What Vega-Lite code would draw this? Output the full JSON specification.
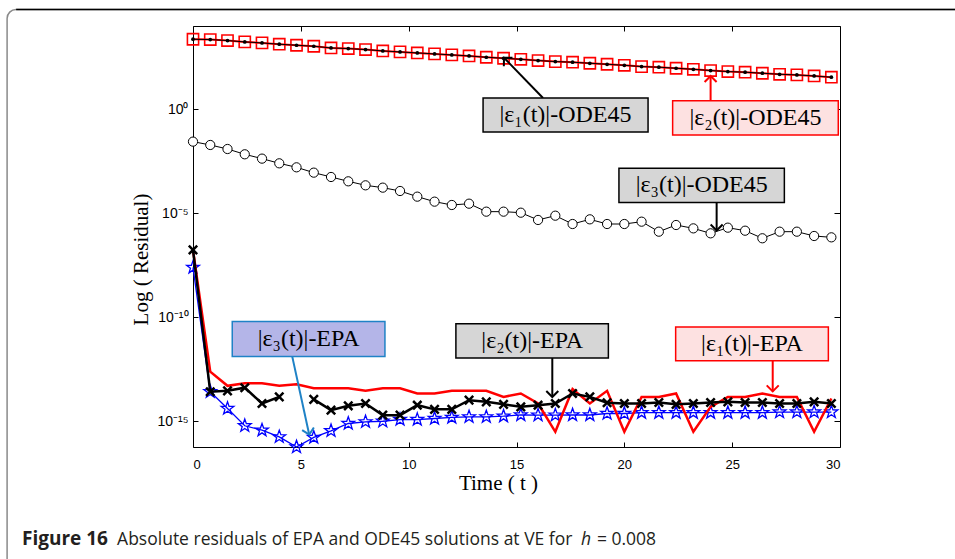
{
  "$schema": "https://vega.github.io/schema/vega-lite/v6.json",
  "width": 647,
  "height": 421,
  "autosize": {"type": "none"},
  "padding": {"left": 193, "top": 26, "right": 115, "bottom": 112},
  "background": "white",
  "config": {
    "view": {"stroke": "black", "strokeWidth": 1},
    "axis": {"grid": false, "domain": false, "tickColor": "black", "labelColor": "black", "titleColor": "black"}
  },
  "resolve": {"axis": {"x": "independent", "y": "independent"}},
  "datasets": {
    "ode": [
      {"t": 0, "e1": 2312, "e3": 0.0278},
      {"t": 0.8, "e1": 2228, "e3": 0.0192},
      {"t": 1.6, "e1": 1995, "e3": 0.0123},
      {"t": 2.4, "e1": 1722, "e3": 0.00684},
      {"t": 3.2, "e1": 1542, "e3": 0.00424},
      {"t": 4.0, "e1": 1330, "e3": 0.00252},
      {"t": 4.8, "e1": 1189, "e3": 0.00162},
      {"t": 5.6, "e1": 1064, "e3": 0.000899},
      {"t": 6.4, "e1": 885, "e3": 0.000556},
      {"t": 7.2, "e1": 822, "e3": 0.000344},
      {"t": 8.0, "e1": 736, "e3": 0.000221},
      {"t": 8.8, "e1": 635, "e3": 0.000171},
      {"t": 9.6, "e1": 569, "e3": 0.000118},
      {"t": 10.4, "e1": 509, "e3": 6.31e-5},
      {"t": 11.2, "e1": 456, "e3": 3.63e-5},
      {"t": 12.0, "e1": 408, "e3": 2.51e-5},
      {"t": 12.8, "e1": 365, "e3": 2.9e-5},
      {"t": 13.6, "e1": 315, "e3": 1.2e-5},
      {"t": 14.4, "e1": 282, "e3": 1.2e-5},
      {"t": 15.2, "e1": 251, "e3": 1.07e-5},
      {"t": 16.0, "e1": 219, "e3": 4.79e-6},
      {"t": 16.8, "e1": 195, "e3": 7.69e-6},
      {"t": 17.6, "e1": 182, "e3": 3.06e-6},
      {"t": 18.4, "e1": 162, "e3": 5.13e-6},
      {"t": 19.2, "e1": 145, "e3": 3.06e-6},
      {"t": 20.0, "e1": 129, "e3": 3.06e-6},
      {"t": 20.8, "e1": 112, "e3": 3.96e-6},
      {"t": 21.6, "e1": 105, "e3": 1.31e-6},
      {"t": 22.4, "e1": 93.3, "e3": 2.74e-6},
      {"t": 23.2, "e1": 83.2, "e3": 1.89e-6},
      {"t": 24.0, "e1": 72.4, "e3": 1.09e-6},
      {"t": 24.8, "e1": 64.6, "e3": 2.04e-6},
      {"t": 25.6, "e1": 60.3, "e3": 1.46e-6},
      {"t": 26.4, "e1": 53.7, "e3": 6.31e-7},
      {"t": 27.2, "e1": 47.9, "e3": 1.31e-6},
      {"t": 28.0, "e1": 44.7, "e3": 1.31e-6},
      {"t": 28.8, "e1": 39.8, "e3": 8.13e-7},
      {"t": 29.6, "e1": 34.7, "e3": 7.0e-7}
    ],
    "epa": [
      {"t": 0, "e1": 1.74e-7, "e2": 1.74e-7, "e3": 2.51e-8},
      {"t": 0.8, "e1": 2.45e-13, "e2": 2.66e-14, "e3": 2.66e-14},
      {"t": 1.6, "e1": 5.13e-14, "e2": 2.95e-14, "e3": 4.17e-15},
      {"t": 2.4, "e1": 6.76e-14, "e2": 4.17e-14, "e3": 6.17e-16},
      {"t": 3.2, "e1": 6.76e-14, "e2": 7.24e-15, "e3": 3.8e-16},
      {"t": 4.0, "e1": 5.13e-14, "e2": 1.51e-14, "e3": 1.82e-16},
      {"t": 4.8, "e1": 6.03e-14, "e2": null, "e3": 5.9e-17},
      {"t": 5.6, "e1": 3.89e-14, "e2": 1.15e-14, "e3": 1.7e-16},
      {"t": 6.4, "e1": 3.89e-14, "e2": 3.47e-15, "e3": 3.55e-16},
      {"t": 7.2, "e1": 3.89e-14, "e2": 5.62e-15, "e3": 7.94e-16},
      {"t": 8.0, "e1": 2.95e-14, "e2": 7.24e-15, "e3": 9.55e-16},
      {"t": 8.8, "e1": 3.89e-14, "e2": 2.0e-15, "e3": 1.02e-15},
      {"t": 9.6, "e1": 3.89e-14, "e2": 2.0e-15, "e3": 1.23e-15},
      {"t": 10.4, "e1": 2.19e-14, "e2": 6.03e-15, "e3": 1.23e-15},
      {"t": 11.2, "e1": 2.19e-14, "e2": 3.8e-15, "e3": 1.38e-15},
      {"t": 12.0, "e1": 2.95e-14, "e2": 3.8e-15, "e3": 1.55e-15},
      {"t": 12.8, "e1": 2.95e-14, "e2": 1.05e-14, "e3": 1.66e-15},
      {"t": 13.6, "e1": 2.95e-14, "e2": 8.71e-15, "e3": 1.66e-15},
      {"t": 14.4, "e1": 1.51e-14, "e2": 6.61e-15, "e3": 1.78e-15},
      {"t": 15.2, "e1": 2.19e-14, "e2": 5.01e-15, "e3": 2.04e-15},
      {"t": 16.0, "e1": 7.24e-15, "e2": 6.03e-15, "e3": 2.0e-15},
      {"t": 16.8, "e1": 3.16e-16, "e2": 7.24e-15, "e3": 2.0e-15},
      {"t": 17.6, "e1": 3.55e-14, "e2": 2.19e-14, "e3": 2.04e-15},
      {"t": 18.4, "e1": 7.24e-15, "e2": 1.51e-14, "e3": 2.04e-15},
      {"t": 19.2, "e1": 2.95e-14, "e2": 7.94e-15, "e3": 2.4e-15},
      {"t": 20.0, "e1": 3.16e-16, "e2": 7.24e-15, "e3": 2.4e-15},
      {"t": 20.8, "e1": 1.51e-14, "e2": 7.24e-15, "e3": 2.63e-15},
      {"t": 21.6, "e1": 1.51e-14, "e2": 8.13e-15, "e3": 2.63e-15},
      {"t": 22.4, "e1": 2.19e-14, "e2": 6.61e-15, "e3": 2.63e-15},
      {"t": 23.2, "e1": 3.16e-16, "e2": 7.24e-15, "e3": 2.63e-15},
      {"t": 24.0, "e1": 5.01e-15, "e2": 8.13e-15, "e3": 2.63e-15},
      {"t": 24.8, "e1": 1.51e-14, "e2": 8.71e-15, "e3": 2.63e-15},
      {"t": 25.6, "e1": 1.51e-14, "e2": 8.13e-15, "e3": 2.63e-15},
      {"t": 26.4, "e1": 2.19e-14, "e2": 8.13e-15, "e3": 2.63e-15},
      {"t": 27.2, "e1": 1.51e-14, "e2": 7.24e-15, "e3": 2.82e-15},
      {"t": 28.0, "e1": 1.51e-14, "e2": 7.24e-15, "e3": 2.82e-15},
      {"t": 28.8, "e1": 3.16e-16, "e2": 8.71e-15, "e3": 2.82e-15},
      {"t": 29.6, "e1": 1.26e-14, "e2": 7.24e-15, "e3": 2.82e-15}
    ],
    "notes": [
      {"label": "|ε₁(t)|-ODE45", "x1": 13.45, "x2": 21.10, "y1": 3.48, "y2": 0.0813, "tx": 17.27, "ty": 0.532, "ax": 16.23, "ay": 3.48, "hx": 14.42, "hy": 300},
      {"label": "|ε₂(t)|-ODE45", "x1": 22.24, "x2": 29.92, "y1": 2.59, "y2": 0.0583, "tx": 26.08, "ty": 0.391, "ax": 24.0, "ay": 2.59, "hx": 24.0, "hy": 39.8},
      {"label": "|ε₃(t)|-ODE45", "x1": 19.75, "x2": 27.42, "y1": 1.47e-3, "y2": 3.28e-5, "tx": 23.59, "ty": 2.2e-4, "ax": 24.28, "ay": 3.28e-5, "hx": 24.28, "hy": 1.49e-6},
      {"label": "|ε₃(t)|-EPA", "x1": 1.82, "x2": 8.90, "y1": 6.35e-11, "y2": 1.33e-12, "tx": 5.36, "ty": 9.18e-12, "ax": 4.60, "ay": 1.33e-12, "hx": 5.39, "hy": 2.31e-16},
      {"label": "|ε₂(t)|-EPA", "x1": 12.19, "x2": 19.26, "y1": 4.93e-11, "y2": 1.11e-12, "tx": 15.73, "ty": 7.41e-12, "ax": 16.66, "ay": 1.11e-12, "hx": 16.66, "hy": 1.49e-14},
      {"label": "|ε₁(t)|-EPA", "x1": 22.38, "x2": 29.46, "y1": 3.43e-11, "y2": 8.26e-13, "tx": 25.92, "ty": 5.37e-12, "ax": 26.88, "ay": 8.26e-13, "hx": 26.88, "hy": 2.77e-14}
    ],
    "frame": [{"x1": -8.62, "x2": 40, "y1": 6.21e4, "y2": 1e-26, "rx": -8.2}],
    "caption": [
      {"part": "bold", "text": "Figure 16", "t": -7.93, "v": 1.15e-21},
      {"part": "normal", "text": "Absolute residuals of EPA and ODE45 solutions at VE for", "t": -3.52, "v": 1.15e-21},
      {"part": "italic", "text": "h", "t": 17.99, "v": 1.15e-21},
      {"part": "normal", "text": "= 0.008", "t": 18.73, "v": 1.15e-21}
    ]
  },
  "layer": [
    {
      "data": {"name": "frame"},
      "mark": {"type": "rect", "filled": false, "stroke": "#8a8a8a", "strokeWidth": 1.5, "cornerRadius": 9},
      "encoding": {
        "x": {"field": "x1", "type": "quantitative", "scale": {"domain": [0, 30], "nice": false}, "axis": null},
        "x2": {"field": "x2"},
        "y": {"field": "y1", "type": "quantitative", "scale": {"type": "log", "domain": [5.9e-17, 1e4], "nice": false}, "axis": null},
        "y2": {"field": "y2"}
      }
    },
    {
      "data": {"name": "frame"},
      "mark": {"type": "rule", "stroke": "black", "strokeWidth": 1.5},
      "encoding": {
        "x": {"field": "rx", "type": "quantitative", "axis": null},
        "x2": {"field": "x2"},
        "y": {"field": "y1", "type": "quantitative", "axis": null}
      }
    },
    {
      "data": {"name": "caption"},
      "transform": [{"filter": "datum.part == 'bold'"}],
      "mark": {"type": "text", "align": "left", "baseline": "alphabetic", "font": "Open Sans", "fontSize": 19, "fontWeight": "bold", "color": "#231f20"},
      "encoding": {
        "x": {"field": "t", "type": "quantitative", "axis": null},
        "y": {"field": "v", "type": "quantitative", "axis": null},
        "text": {"field": "text"}
      }
    },
    {
      "data": {"name": "caption"},
      "transform": [{"filter": "datum.part == 'normal'"}],
      "mark": {"type": "text", "align": "left", "baseline": "alphabetic", "font": "Open Sans", "fontSize": 17.5, "color": "#231f20"},
      "encoding": {
        "x": {"field": "t", "type": "quantitative", "axis": null},
        "y": {"field": "v", "type": "quantitative", "axis": null},
        "text": {"field": "text"}
      }
    },
    {
      "data": {"name": "caption"},
      "transform": [{"filter": "datum.part == 'italic'"}],
      "mark": {"type": "text", "align": "left", "baseline": "alphabetic", "font": "Open Sans", "fontSize": 17.5, "fontStyle": "italic", "color": "#231f20"},
      "encoding": {
        "x": {"field": "t", "type": "quantitative", "axis": null},
        "y": {"field": "v", "type": "quantitative", "axis": null},
        "text": {"field": "text"}
      }
    },
    {
      "data": {"name": "ode"},
      "mark": {"type": "line", "color": "#ff0000", "strokeWidth": 2},
      "encoding": {
        "x": {"field": "t", "type": "quantitative", "axis": {"orient": "bottom", "values": [0, 5, 10, 15, 20, 25, 30], "tickSize": -5, "labelFont": "Liberation Sans", "labelFontSize": 13, "labelPadding": 16, "title": "Time ( t )", "titleFont": "Liberation Serif", "titleFontSize": 21, "titleFontWeight": "normal", "titleX": 305, "titleY": 42, "titleAlign": "center", "titleBaseline": "alphabetic"}},
        "y": {"field": "e1", "type": "quantitative", "axis": {"orient": "left", "values": [1e-15, 1e-10, 1e-5, 1], "tickSize": -5, "labelFont": "Liberation Sans", "labelFontSize": 14, "labelPadding": 10, "labelExpr": "datum.value >= 0.5 ? '10⁰' : datum.value > 1e-7 ? '10⁻⁵' : datum.value > 1e-12 ? '10⁻¹⁰' : '10⁻¹⁵'", "title": "Log ( Residual)", "titleFont": "Liberation Serif", "titleFontSize": 21, "titleFontWeight": "normal", "titleX": -46, "titleY": 233, "titleAlign": "center", "titleBaseline": "alphabetic", "titleAngle": -90}}
      }
    },
    {
      "data": {"name": "ode"},
      "mark": {"type": "point", "shape": "square", "filled": false, "stroke": "#ff0000", "strokeWidth": 1.6, "size": 125, "opacity": 1},
      "encoding": {
        "x": {"field": "t", "type": "quantitative", "axis": {"orient": "top", "values": [0, 5, 10, 15, 20, 25, 30], "tickSize": -5, "labels": false, "title": null}},
        "y": {"field": "e1", "type": "quantitative", "axis": {"orient": "right", "values": [1e-15, 1e-10, 1e-5, 1], "tickSize": -6, "labels": false, "title": null}}
      }
    },
    {
      "data": {"name": "ode"},
      "mark": {"type": "line", "color": "#000000", "strokeWidth": 1},
      "encoding": {
        "x": {"field": "t", "type": "quantitative", "axis": null},
        "y": {"field": "e1", "type": "quantitative", "axis": null}
      }
    },
    {
      "data": {"name": "ode"},
      "mark": {"type": "point", "shape": "circle", "filled": true, "color": "#000000", "size": 14, "opacity": 1},
      "encoding": {
        "x": {"field": "t", "type": "quantitative", "axis": null},
        "y": {"field": "e1", "type": "quantitative", "axis": null}
      }
    },
    {
      "data": {"name": "ode"},
      "mark": {"type": "line", "color": "#000000", "strokeWidth": 1},
      "encoding": {
        "x": {"field": "t", "type": "quantitative", "axis": null},
        "y": {"field": "e3", "type": "quantitative", "axis": null}
      }
    },
    {
      "data": {"name": "ode"},
      "mark": {"type": "point", "shape": "circle", "filled": true, "fill": "white", "stroke": "#000000", "strokeWidth": 1, "size": 85, "opacity": 1},
      "encoding": {
        "x": {"field": "t", "type": "quantitative", "axis": null},
        "y": {"field": "e3", "type": "quantitative", "axis": null}
      }
    },
    {
      "data": {"name": "epa"},
      "mark": {"type": "line", "color": "#0000ff", "strokeWidth": 1.3},
      "encoding": {
        "x": {"field": "t", "type": "quantitative", "axis": null},
        "y": {"field": "e3", "type": "quantitative", "axis": null}
      }
    },
    {
      "data": {"name": "epa"},
      "mark": {"type": "point", "shape": "M0,-1L0.235,-0.324L0.951,-0.309L0.38,0.124L0.588,0.809L0,0.4L-0.588,0.809L-0.38,0.124L-0.951,-0.309L-0.235,-0.324Z", "filled": false, "stroke": "#0000ff", "strokeWidth": 1.3, "size": 180, "opacity": 1},
      "encoding": {
        "x": {"field": "t", "type": "quantitative", "axis": null},
        "y": {"field": "e3", "type": "quantitative", "axis": null}
      }
    },
    {
      "data": {"name": "epa"},
      "mark": {"type": "line", "color": "#ff0000", "strokeWidth": 2.5},
      "encoding": {
        "x": {"field": "t", "type": "quantitative", "axis": null},
        "y": {"field": "e1", "type": "quantitative", "axis": null}
      }
    },
    {
      "data": {"name": "epa"},
      "mark": {"type": "line", "color": "#000000", "strokeWidth": 2.5},
      "encoding": {
        "x": {"field": "t", "type": "quantitative", "axis": null},
        "y": {"field": "e2", "type": "quantitative", "axis": null}
      }
    },
    {
      "data": {"name": "epa"},
      "mark": {"type": "point", "shape": "M-1,-1L1,1M-1,1L1,-1", "filled": false, "stroke": "#000000", "strokeWidth": 2.5, "size": 70, "opacity": 1},
      "encoding": {
        "x": {"field": "t", "type": "quantitative", "axis": null},
        "y": {"field": "e2", "type": "quantitative", "axis": null}
      }
    },
    {
      "data": {"name": "notes"},
      "mark": {"type": "rule", "strokeWidth": 2},
      "encoding": {
        "x": {"field": "ax", "type": "quantitative", "axis": null},
        "y": {"field": "ay", "type": "quantitative", "axis": null},
        "x2": {"field": "hx"},
        "y2": {"field": "hy"},
        "stroke": {"field": "label", "type": "nominal", "legend": null, "scale": {"domain": ["|ε₁(t)|-ODE45", "|ε₂(t)|-ODE45", "|ε₃(t)|-ODE45", "|ε₃(t)|-EPA", "|ε₂(t)|-EPA", "|ε₁(t)|-EPA"], "range": ["#000000", "#ff0000", "#000000", "#1f82c6", "#000000", "#ff0000"]}}
      }
    },
    {
      "data": {"name": "notes"},
      "transform": [{"filter": {"field": "label", "oneOf": ["|ε₂(t)|-ODE45"]}}],
      "mark": {"type": "point", "shape": "M-1,1L0,0L1,1", "filled": false, "strokeWidth": 2, "size": 144, "opacity": 1, "angle": 0},
      "encoding": {
        "x": {"field": "hx", "type": "quantitative", "axis": null},
        "y": {"field": "hy", "type": "quantitative", "axis": null},
        "stroke": {"field": "label", "type": "nominal", "legend": null}
      }
    },
    {
      "data": {"name": "notes"},
      "transform": [{"filter": {"field": "label", "oneOf": ["|ε₃(t)|-ODE45", "|ε₂(t)|-EPA", "|ε₁(t)|-EPA"]}}],
      "mark": {"type": "point", "shape": "M-1,1L0,0L1,1", "filled": false, "strokeWidth": 2, "size": 144, "opacity": 1, "angle": 180},
      "encoding": {
        "x": {"field": "hx", "type": "quantitative", "axis": null},
        "y": {"field": "hy", "type": "quantitative", "axis": null},
        "stroke": {"field": "label", "type": "nominal", "legend": null}
      }
    },
    {
      "data": {"name": "notes"},
      "transform": [{"filter": {"field": "label", "oneOf": ["|ε₁(t)|-ODE45"]}}],
      "mark": {"type": "point", "shape": "M-1,1L0,0L1,1", "filled": false, "strokeWidth": 2, "size": 144, "opacity": 1, "angle": -44},
      "encoding": {
        "x": {"field": "hx", "type": "quantitative", "axis": null},
        "y": {"field": "hy", "type": "quantitative", "axis": null},
        "stroke": {"field": "label", "type": "nominal", "legend": null}
      }
    },
    {
      "data": {"name": "notes"},
      "transform": [{"filter": {"field": "label", "oneOf": ["|ε₃(t)|-EPA"]}}],
      "mark": {"type": "point", "shape": "M-1,1L0,0L1,1", "filled": false, "strokeWidth": 2, "size": 144, "opacity": 1, "angle": 168},
      "encoding": {
        "x": {"field": "hx", "type": "quantitative", "axis": null},
        "y": {"field": "hy", "type": "quantitative", "axis": null},
        "stroke": {"field": "label", "type": "nominal", "legend": null}
      }
    },
    {
      "data": {"name": "notes"},
      "mark": {"type": "rect", "strokeWidth": 1.5},
      "encoding": {
        "x": {"field": "x1", "type": "quantitative", "axis": null},
        "x2": {"field": "x2"},
        "y": {"field": "y1", "type": "quantitative", "axis": null},
        "y2": {"field": "y2"},
        "fill": {"field": "label", "type": "nominal", "legend": null, "scale": {"domain": ["|ε₁(t)|-ODE45", "|ε₂(t)|-ODE45", "|ε₃(t)|-ODE45", "|ε₃(t)|-EPA", "|ε₂(t)|-EPA", "|ε₁(t)|-EPA"], "range": ["#d6d6d6", "#fde1e1", "#d6d6d6", "#b4b5e8", "#d6d6d6", "#fde1e1"]}},
        "stroke": {"field": "label", "type": "nominal", "legend": null}
      }
    },
    {
      "data": {"name": "notes"},
      "mark": {"type": "text", "align": "center", "baseline": "middle", "font": "Liberation Serif", "fontSize": 24, "color": "#000000"},
      "encoding": {
        "x": {"field": "tx", "type": "quantitative", "axis": null},
        "y": {"field": "ty", "type": "quantitative", "axis": null},
        "text": {"field": "label"}
      }
    }
  ]
}
